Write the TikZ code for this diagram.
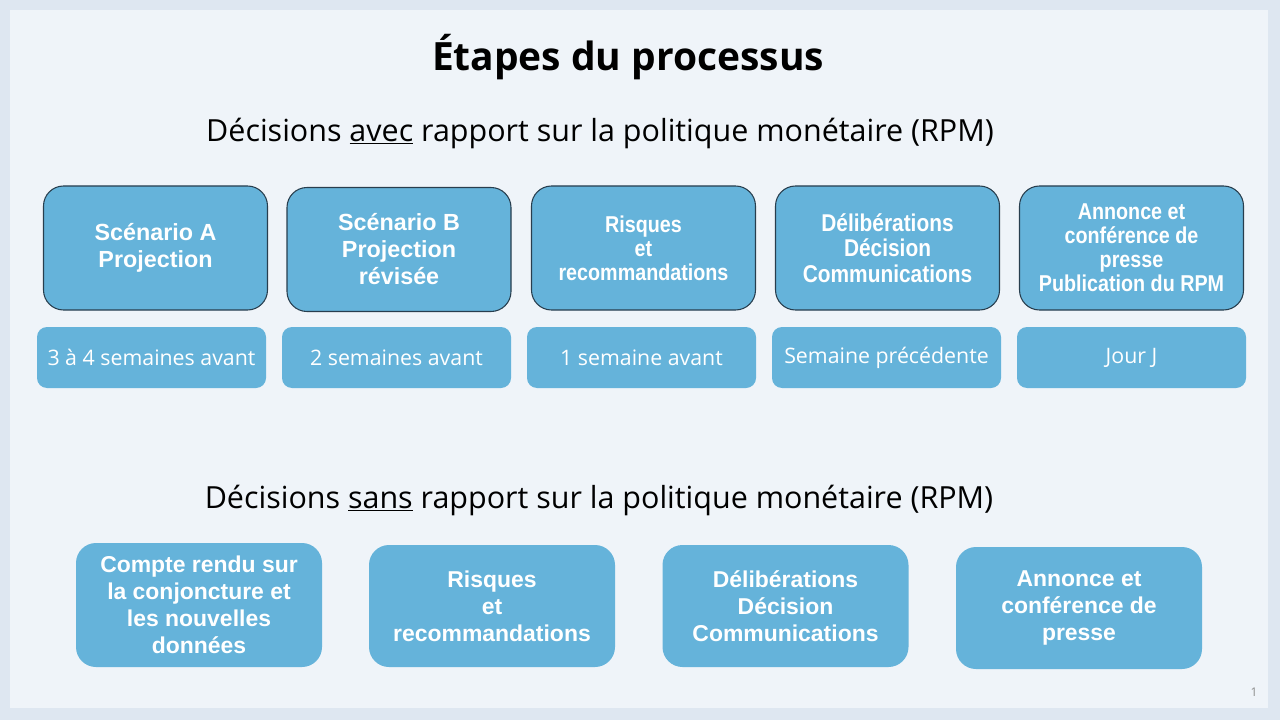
\documentclass[tikz,border=0pt]{standalone}
\usepackage{fontspec}
\setmainfont{Open Sans}
\newfontfamily\arialb[BoldFont={* Bold}]{Liberation Sans}
\newfontfamily\arialn[FakeStretch=0.86,BoldFont={* Bold}]{Liberation Sans}
\definecolor{outerbg}{RGB}{222,231,241}
\definecolor{panelbg}{RGB}{239,244,249}
\definecolor{boxfill}{RGB}{101,179,218}
\definecolor{boxline}{RGB}{40,62,78}
\definecolor{pgnum}{RGB}{140,140,140}
\tikzset{
  stepbox/.style={draw=boxline, line width=0.8pt, fill=boxfill, rounded corners=20*0.75pt,
    minimum width=224*0.75pt, minimum height=124*0.75pt, align=center, text=white, inner sep=0pt},
  datebox/.style={fill=boxfill, rounded corners=10*0.75pt,
    minimum width=229*0.75pt, minimum height=61*0.75pt, align=center, text=white, inner sep=0pt,
    font=\fontsize{16}{19}\selectfont},
  lowbox/.style={fill=boxfill, rounded corners=20*0.75pt,
    minimum width=246*0.75pt, minimum height=122*0.75pt, align=center, text=white, inner sep=0pt,
    font=\arialb\bfseries\fontsize{17.2}{20.25}\selectfont},
  big/.style={font=\arialb\bfseries\fontsize{17.5}{20.25}\selectfont},
  narrow/.style={font=\arialn\bfseries\fontsize{17.2}{18}\selectfont},
  heading/.style={font=\fontsize{22.85}{26}\selectfont, text=black, inner sep=0pt},
}
\begin{document}
\begin{tikzpicture}[x=0.75pt,y=-0.75pt]
\fill[outerbg] (0,0) rectangle (1280,720);
\fill[panelbg] (10,10) rectangle (1268,708);
\useasboundingbox (0,0) rectangle (1280,720);

\node[font=\bfseries\fontsize{29.2}{33}\selectfont, inner sep=0pt] (title) at (628,57) {Étapes du processus};
\node[heading] (sub1) at (600,133) {Décisions \underline{avec} rapport sur la politique monétaire (RPM)};
\node[heading] (sub2) at (599,500) {Décisions \underline{sans} rapport sur la politique monétaire (RPM)};

\node[stepbox, big] (a1) at (155.5,248) {Scénario A\\Projection};
\node[stepbox, big] (a2) at (399,249.5) {Scénario B\\Projection\\révisée};
\node[stepbox, narrow] (a3) at (643.5,248) {Risques\\et\\recommandations};
\node[stepbox, font=\arialn\bfseries\fontsize{18.2}{19.2}\selectfont] (a4) at (887.5,248) {Délibérations\\Décision\\Communications};
\node[stepbox, narrow] (a5) at (1131.5,248) {Annonce et\\conférence de\\presse\\Publication du RPM};

\node[datebox] (d1) at (151.5,357.5) {3 à 4 semaines avant};
\node[datebox] (d2) at (396.5,357.5) {2 semaines avant};
\node[datebox] (d3) at (641.5,357.5) {1 semaine avant};
\node[datebox] (d4) at (886.5,357.5) {Semaine précédente};
\node[datebox] (d5) at (1131.5,357.5) {Jour J};

\node[lowbox, minimum height=124*0.75pt] (b1) at (199,605) {Compte rendu sur\\la conjoncture et\\les nouvelles\\données};
\node[lowbox] (b2) at (492,606) {Risques\\et\\recommandations};
\node[lowbox] (b3) at (785.5,606) {Délibérations\\Décision\\Communications};
\node[lowbox] (b4) at (1079,608) {Annonce et\\conférence de\\presse};

\node[text=pgnum, font=\fontsize{9}{10}\selectfont, inner sep=0pt] (pg) at (1254,692) {1};
\end{tikzpicture}
\end{document}
